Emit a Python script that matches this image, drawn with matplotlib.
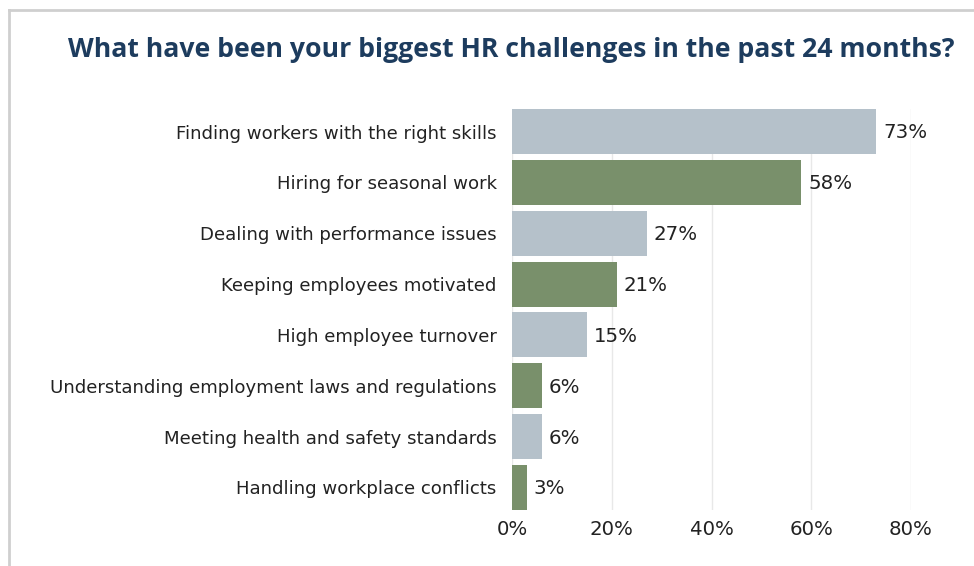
import matplotlib
matplotlib.use("Agg")
import matplotlib.pyplot as plt
from matplotlib.lines import Line2D
from matplotlib.ticker import FuncFormatter

plt.rcParams['font.family'] = ['DejaVu Sans']

challenges = [
    "Finding workers with the right skills",
    "Hiring for seasonal work",
    "Dealing with performance issues",
    "Keeping employees motivated",
    "High employee turnover",
    "Understanding employment laws and regulations",
    "Meeting health and safety standards",
    "Handling workplace conflicts",
]
shares = [73, 58, 27, 21, 15, 6, 6, 3]
x_ticks = [0, 20, 40, 60, 80]
title = "What have been your biggest HR challenges in the past 24 months?"

grey = "#b5c1ca"
green = "#79906b"
colors = [grey if i % 2 == 0 else green for i in range(len(shares))]

W, H = 974, 566
fig = plt.figure(figsize=(W / 100, H / 100), dpi=100)
fig.patch.set_facecolor("white")

# panel frame (top and left edges)
fig.add_artist(Line2D([9 / W, 9 / W], [0, 1 - 10 / H], transform=fig.transFigure,
                      color="#cfcfcf", lw=2))
fig.add_artist(Line2D([9 / W, 1], [1 - 10 / H, 1 - 10 / H], transform=fig.transFigure,
                      color="#cfcfcf", lw=2))

fig.text(511 / W, 1 - 50 / H, title, ha="center", va="center",
         fontsize=19.2, fontweight="bold", color="#1d3c5e",
         family=["Open Sans", "DejaVu Sans"])

left, right, top, bottom = 512, 911, 109, 510
ax = fig.add_axes([left / W, 1 - bottom / H, (right - left) / W, (bottom - top) / H])

y = list(range(len(challenges)))
bar_h = 0.885
ax.barh(y, shares, height=bar_h, color=colors, zorder=2)
ax.set_ylim(len(challenges) - 1 + bar_h / 2, -bar_h / 2)
ax.set_xlim(0, 80)

for yi, v in zip(y, shares):
    ax.annotate(f"{v}%", (v, yi), xytext=(5, -1), textcoords="offset points",
                ha="left", va="center", fontsize=14.2, color="#222222")

ax.set_yticks(y)
ax.set_yticklabels(challenges, fontsize=13.1, color="#222222")
ax.set_xticks(x_ticks)
ax.xaxis.set_major_formatter(FuncFormatter(lambda v, p: f"{v:.0f}%"))
ax.tick_params(axis="x", labelsize=14.2, labelcolor="#222222", length=0, pad=7)
ax.tick_params(axis="y", length=0, pad=11)
ax.grid(axis="x", color="#e8e8e8", lw=1, zorder=0)
for s in ax.spines.values():
    s.set_visible(False)

fig.savefig("out.png", dpi=100, facecolor="white")
